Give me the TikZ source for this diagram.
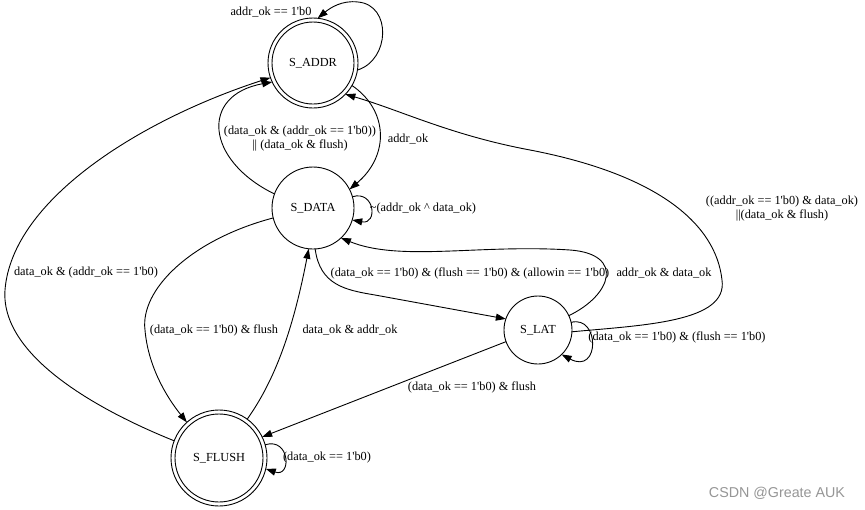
\documentclass[tikz,border=0pt]{standalone}
\usepackage{fontspec}
\setmainfont{Liberation Serif}
\newfontfamily\wmfont{Liberation Sans}
\usetikzlibrary{arrows.meta}
\newcommand\bz{1\textquotesingle b0}
\begin{document}
\begin{tikzpicture}[x=1pt,y=-1pt,
  every node/.style={font=\fontsize{12.3}{14}\selectfont},
  st/.style={circle,draw,line width=0.9pt,inner sep=0pt,outer sep=0pt},
  tr/.style={draw,line width=0.9pt,-{Triangle[length=10pt,width=7pt]}},
  lbl/.style={inner sep=0pt,align=center}]
\useasboundingbox[fill=white] (0,0) rectangle (865,509);

% states
\node[st,minimum size=90pt] (A) at (313,63) {S\_ADDR};
\draw[line width=0.9pt] (A.center) circle[radius=41pt];
\node[st,minimum size=82pt] (D) at (313,208) {S\_DATA};
\node[st,minimum size=68pt] (L) at (538,330) {S\_LAT};
\node[st,minimum size=96pt] (F) at (219,458) {S\_FLUSH};
\draw[line width=0.9pt] (F.center) circle[radius=44pt];

% transitions
\draw[tr] (A.-9) .. controls (390,60) and (392,5) .. (358,2) .. controls (342,0) and (330,8) .. (A.84);
\draw[tr] (A.-30) .. controls (388,110) and (390,155) .. (D.27);
\draw[tr] (D.160) .. controls (205,160) and (200,95) .. (A.205);
\draw[tr] (F.159) .. controls (110,415) and (0,360) .. (5,290) .. controls (12,200) and (140,120) .. (A.199);
\draw[tr] (D.16) .. controls (375,190) and (378,225) .. (D.-17);
\draw[tr] (D.-87) .. controls (320,285) and (345,290) .. (375,295) -- (L.161);
\draw[tr] (L.25) .. controls (612,295) and (625,254) .. (570,250) .. controls (480,244) and (400,262) .. (D.-47);
\draw[tr] (L.-3) .. controls (645,325) and (728,322) .. (722,280) .. controls (716,225) and (660,175) .. (530,150) .. controls (450,135) and (400,110) .. (A.-44);
\draw[tr] (L.13) .. controls (600,315) and (600,375) .. (L.-46);
\draw[tr] (L.200) -- (F.26);
\draw[tr] (D.194) .. controls (190,240) and (140,290) .. (145,330) .. controls (148,365) and (165,395) .. (F.132);
\draw[tr] (F.54) .. controls (275,380) and (293,330) .. (D.264);
\draw[tr] (F.16) .. controls (290,437) and (292,478) .. (F.-13);

% labels
\node[lbl] (l1) at (271,12) {addr\_ok == \bz};
\node[lbl] (l2) at (408,139) {addr\_ok};
\node[lbl] (l3) at (300,139) {(data\_ok \& (addr\_ok == \bz))\\|| (data\_ok \& flush)};
\node[lbl] (l4) at (86,273) {data\_ok \& (addr\_ok == \bz)};
\node[lbl] (l5) at (423,209) {\textasciitilde(addr\_ok \textasciicircum\ data\_ok)};
\node[lbl] (l6) at (470,273) {(data\_ok == \bz) \& (flush == \bz) \& (allowin == \bz)};
\node[lbl] (l7) at (664,273) {addr\_ok \& data\_ok};
\node[lbl] (l8) at (782,209) {((addr\_ok == \bz) \& data\_ok)\\||(data\_ok \& flush)};
\node[lbl] (l9) at (677,337) {(data\_ok == \bz) \& (flush == \bz)};
\node[lbl] (l10) at (472,387) {(data\_ok == \bz) \& flush};
\node[lbl] (l11) at (214,330) {(data\_ok == \bz) \& flush};
\node[lbl] (l12) at (350,330) {data\_ok \& addr\_ok};
\node[lbl] (l13) at (327,458) {(data\_ok == \bz)};

% watermark
\node[lbl,font=\wmfont\fontsize{14.3}{16}\selectfont,text={rgb,255:red,150;green,150;blue,150}] (wm) at (777,493) {CSDN @Greate AUK};
\end{tikzpicture}
\end{document}
